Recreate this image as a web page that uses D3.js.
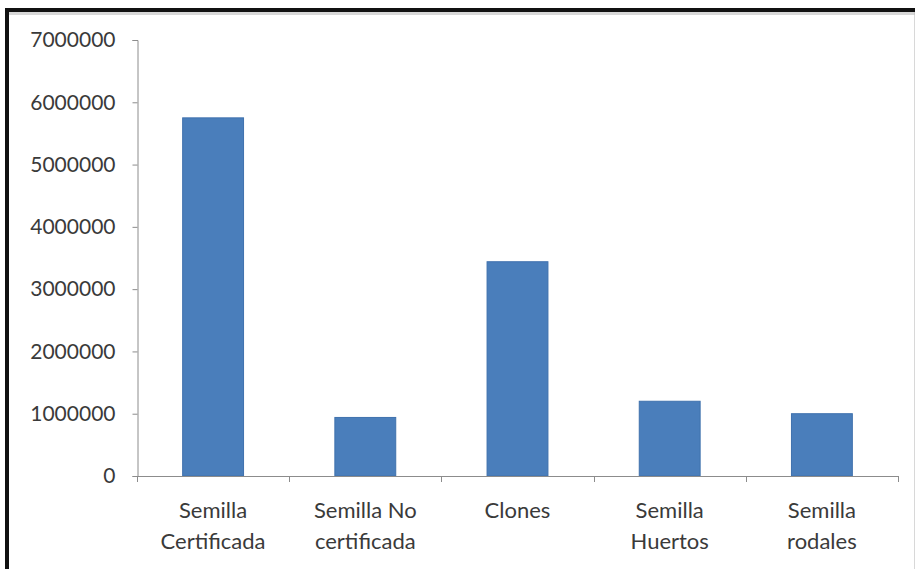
<!DOCTYPE html>
<html>
<head>
<meta charset="utf-8">
<script src="https://cdn.jsdelivr.net/npm/d3@7"></script>
<style>
  html, body { margin: 0; padding: 0; background: #ffffff; }
  svg { display: block; }
</style>
</head>
<body>
<script>
// Plantas producidas por tipo de material
const categories = [
  ["Semilla", "Certificada"],
  ["Semilla No", "certificada"],
  ["Clones"],
  ["Semilla", "Huertos"],
  ["Semilla", "rodales"]
];
const values = [5750000, 940000, 3440000, 1200000, 1000000];
const yTicks = [0, 1000000, 2000000, 3000000, 4000000, 5000000, 6000000, 7000000];

const W = 919, H = 569;
const svg = d3.select("body").append("svg").attr("width", W).attr("height", H);

// frame
svg.append("rect").attr("x", 0).attr("y", 0).attr("width", W).attr("height", H).attr("fill", "#ffffff");
svg.append("line").attr("x1", 914.5).attr("x2", 914.5).attr("y1", 12).attr("y2", H).attr("stroke", "#d8d8d8").attr("stroke-width", 1);
svg.append("rect").attr("x", 9).attr("y", 12).attr("width", 906).attr("height", 3).attr("fill", "#bdbdbd").attr("opacity", 0.6);
svg.append("rect").attr("x", 5).attr("y", 8).attr("width", 910).attr("height", 4).attr("fill", "#111111");
svg.append("rect").attr("x", 5).attr("y", 8).attr("width", 4).attr("height", H - 8).attr("fill", "#111111");

const x0 = 137, x1 = 898, yBase = 476, yTop = 40;
const x = d3.scaleBand().domain(d3.range(values.length)).range([x0, x1]).paddingInner(0.6).paddingOuter(0.3);
const y = d3.scaleLinear().domain([0, 7000000]).range([yBase, yTop]);

const fontFam = "Lato, 'Open Sans', sans-serif";
const textCol = "#3a3a3a";
const axisCol = "#8c8c8c";

// bars
svg.append("g").selectAll("rect").data(values).join("rect")
  .attr("x", (d, i) => x(i))
  .attr("y", d => y(d))
  .attr("width", x.bandwidth())
  .attr("height", d => y(0) - y(d))
  .attr("fill", "#4a7ebb")
  .attr("stroke", "#3f71ad")
  .attr("stroke-width", 1);

// y axis
const yAxis = svg.append("g").attr("transform", `translate(${x0 + 0.5},0)`)
  .call(d3.axisLeft(y).tickValues(yTicks).tickFormat(d3.format("d")).tickSize(5).tickPadding(17));
yAxis.select(".domain").attr("stroke", axisCol);
yAxis.selectAll(".tick line").attr("stroke", axisCol);
yAxis.selectAll(".tick text").attr("fill", textCol).style("font-family", fontFam).style("font-size", "21px");

// x axis with category boundary ticks
const xAxisG = svg.append("g");
xAxisG.append("line").attr("x1", x0).attr("x2", x1).attr("y1", yBase + 0.5).attr("y2", yBase + 0.5).attr("stroke", axisCol);
const step = x.step();
const bounds = d3.range(values.length + 1).map(i => x(0) - x.paddingOuter() * step + i * step);
xAxisG.selectAll("line.b").data(bounds).join("line").attr("class", "b")
  .attr("x1", d => Math.round(d) + 0.5).attr("x2", d => Math.round(d) + 0.5)
  .attr("y1", yBase).attr("y2", yBase + 6).attr("stroke", axisCol);

// category labels
const lab = svg.append("g");
categories.forEach((lines, i) => {
  const cx = x(i) + x.bandwidth() / 2;
  const t = lab.append("text").attr("text-anchor", "middle")
    .attr("fill", textCol).style("font-family", fontFam).style("font-size", "22px");
  lines.forEach((s, k) => {
    t.append("tspan").attr("x", cx).attr("y", 518 + k * 31).text(s);
  });
});
</script>
</body>
</html>
